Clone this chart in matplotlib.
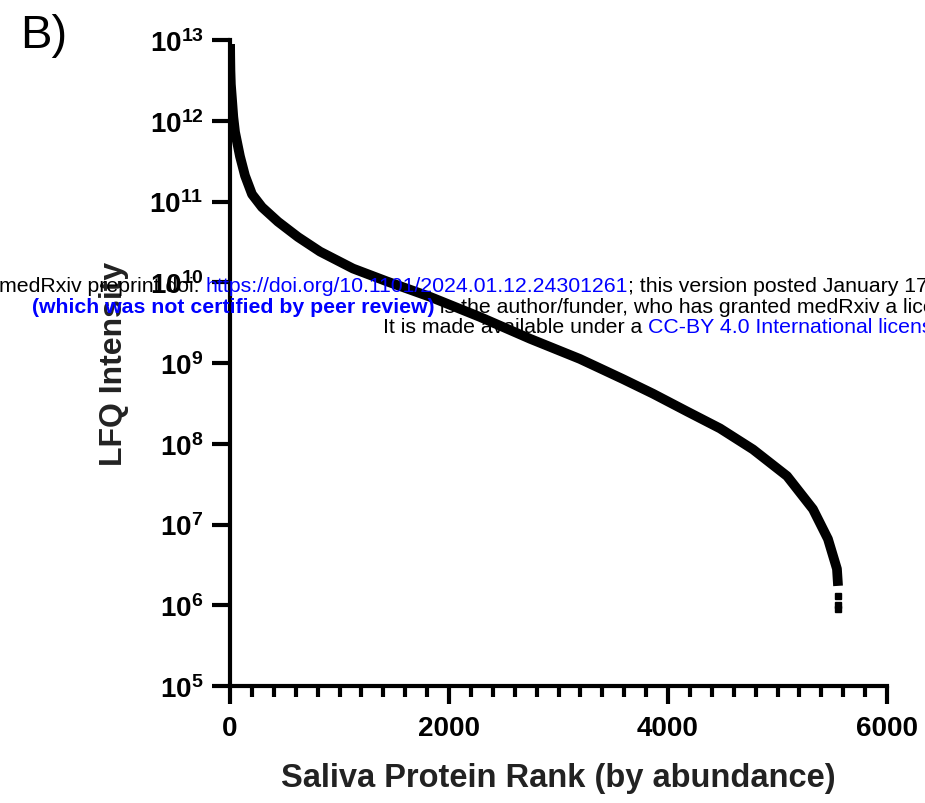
import matplotlib
matplotlib.use('Agg')
import matplotlib.pyplot as plt
from matplotlib.ticker import FixedLocator, MultipleLocator, NullLocator
import numpy as np

# rank of each protein vs log10 LFQ intensity
rank = [1, 2, 4, 8, 18, 30, 46, 91, 137, 201, 292, 438, 621, 822, 1123,
        1434, 1826, 2283, 2740, 3196, 3590, 3863, 4174, 4475, 4776, 5087,
        5324, 5461, 5543, 5553]
log_lfq = [12.95, 12.8, 12.62, 12.45, 12.27, 12.05, 11.86, 11.56, 11.32,
           11.09, 10.93, 10.75, 10.56, 10.38, 10.17, 10.01, 9.82, 9.57,
           9.30, 9.05, 8.80, 8.62, 8.40, 8.19, 7.93, 7.60, 7.19, 6.82,
           6.45, 6.24]
# last sparse points at the bottom of the curve
tail_rank = [5554, 5556, 5557]
tail_log = [6.12, 6.0, 5.95]

ytick_exp = [5, 6, 7, 8, 9, 10, 11, 12, 13]
xticks = [0, 2000, 4000, 6000]

plt.rcParams['font.family'] = ['Liberation Sans', 'DejaVu Sans']
plt.rcParams['mathtext.fontset'] = 'custom'
plt.rcParams['mathtext.bf'] = 'Liberation Sans:bold'
plt.rcParams['mathtext.rm'] = 'Liberation Sans:bold'

fig = plt.figure(figsize=(9.25, 8.04), dpi=100)
ax = fig.add_axes([230 / 925, 1 - 687 / 804, 657 / 925, 646 / 804])

ax.plot(rank, 10.0 ** np.array(log_lfq), color='black', lw=7,
        solid_capstyle='butt', solid_joinstyle='round', zorder=3)
ax.plot(tail_rank, 10.0 ** np.array(tail_log), 's', color='black', ms=4,
        zorder=3)

ax.set_yscale('log')
ax.set_xlim(0, 6000)
ax.set_ylim(1e5, 1e13)
ax.yaxis.set_major_locator(FixedLocator([10.0 ** e for e in ytick_exp]))
ax.yaxis.set_minor_locator(NullLocator())
ax.set_yticklabels([r'$\mathbf{10^{%d}}$' % e for e in ytick_exp])
ax.set_xticks(xticks)
ax.set_xticklabels([str(t) for t in xticks])
ax.xaxis.set_minor_locator(MultipleLocator(200))

for s in ['top', 'right']:
    ax.spines[s].set_visible(False)
for s in ['left', 'bottom']:
    ax.spines[s].set_linewidth(3.0)
    ax.spines[s].set_capstyle('projecting')

ax.tick_params(axis='both', which='major', length=13, width=3.0,
               labelsize=20, pad=6)
ax.tick_params(axis='x', which='minor', length=8, width=3.0)
ax.tick_params(axis='x', which='major', pad=8)
for lab in ax.get_xticklabels():
    lab.set_fontweight('bold')

ax.set_xlabel('Saliva Protein Rank (by abundance)', fontsize=23.5,
              fontweight='bold', va='center', color='#222222')
ax.xaxis.set_label_coords(0.5, -0.141)
ax.set_ylabel('LFQ Intensity', fontsize=23, fontweight='bold',
              va='center', ha='center', color='#222222')
ax.yaxis.set_label_coords(-0.176, 0.5)

fig.text(20 / 925, 1 - 36 / 804, 'B)', fontsize=34, va='center', ha='left')

# medRxiv watermark, segments chained left to right
blue = '#0000ff'
wm_lines = [
    (-1, 287, [('medRxiv preprint doi: ', 'black', 'normal'),
               ('https://doi.org/10.1101/2024.01.12.24301261', blue, 'normal'),
               ('; this version posted January 17, 2024. The copyright holder', 'black', 'normal')]),
    (32, 308, [('(which was not certified by peer review)', blue, 'bold'),
               (' is the author/funder, who has granted medRxiv a license to display', 'black', 'normal')]),
    (383, 328, [('It is made available under a ', 'black', 'normal'),
                ('CC-BY 4.0 International license', blue, 'normal'),
                (' .', 'black', 'normal')]),
]
fig.canvas.draw()
renderer = fig.canvas.get_renderer()
for x0, y0, segs in wm_lines:
    x = x0
    for txt, col, wt in segs:
        t = fig.text(x / 925, 1 - y0 / 804, txt, color=col, fontweight=wt,
                     fontsize=15.3, va='center', ha='left', zorder=10)
        bb = t.get_window_extent(renderer)
        x = bb.x1

fig.savefig('out.png', dpi=100)
